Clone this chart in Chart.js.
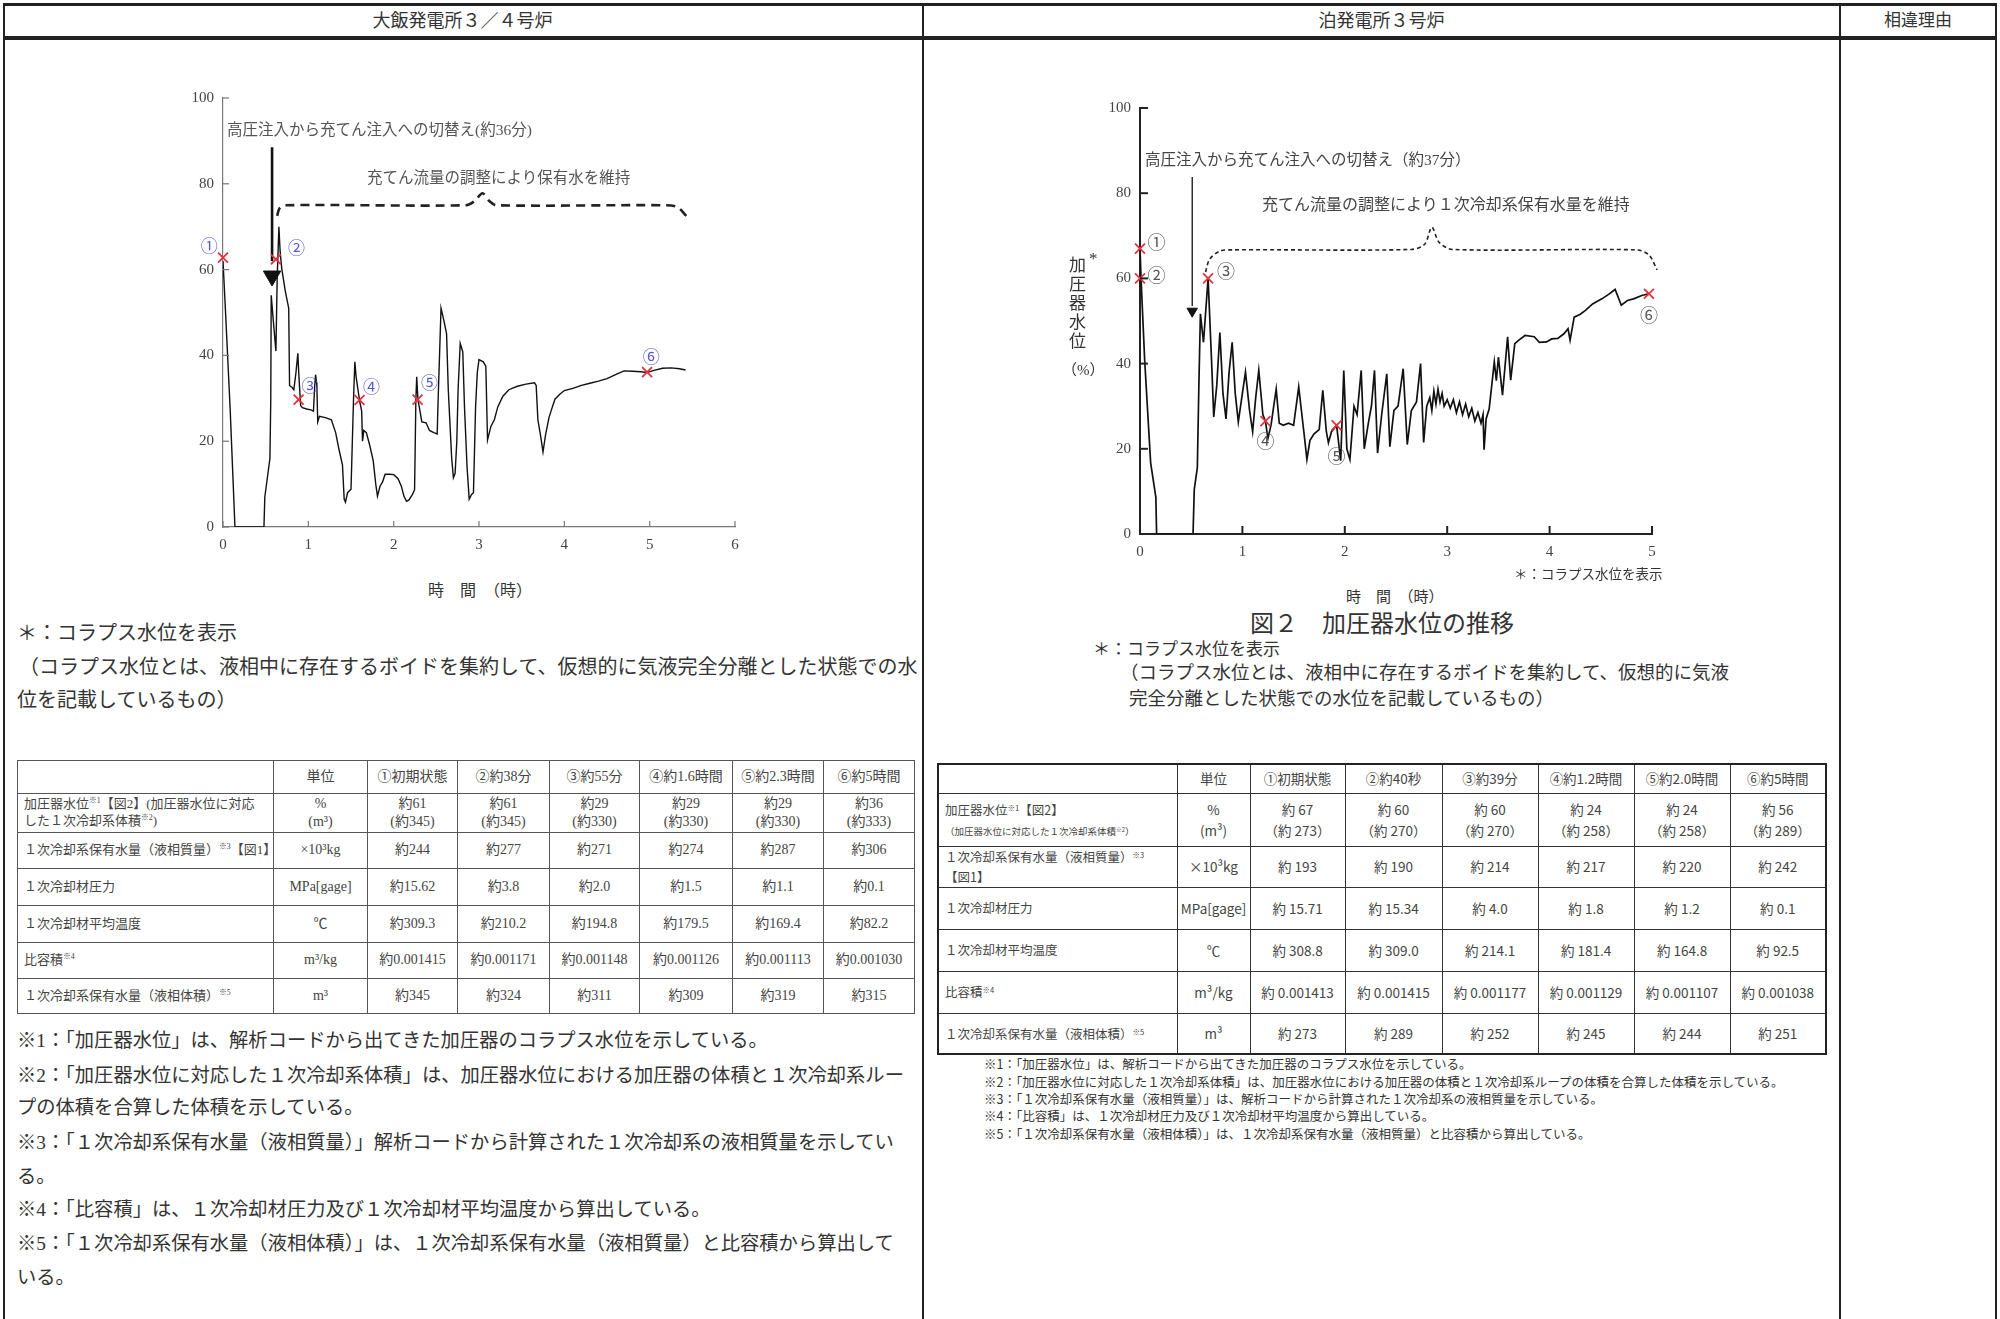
<!DOCTYPE html>
<html lang="ja">
<head>
<meta charset="utf-8">
<title>加圧器水位の推移</title>
<script src="https://cdn.jsdelivr.net/npm/chart.js@4.4.1/dist/chart.umd.min.js"></script>
<style>
  html, body { margin: 0; padding: 0; background: #fff; }
  #page { position: relative; width: 2000px; height: 1319px; overflow: hidden; color: #333;
          font-family: "Liberation Serif", "Noto Sans CJK JP", serif; }
  .rule { position: absolute; background: #222; }
  .t { position: absolute; white-space: nowrap; line-height: 1; }
  canvas { position: absolute; }
  table { position: absolute; border-collapse: collapse; table-layout: fixed; }
  td { border: 1px solid #555; text-align: center; vertical-align: middle; padding: 0; overflow: hidden; white-space: nowrap; }
  td.first { text-align: left; padding-left: 6px; }
  #tblL { font-size: 14px; line-height: 1.3; color: #444; }
  #tblL td.first { font-size: 13px; }
  #tblR { font-size: 13.5px; line-height: 1.55; color: #444; border: 2px solid #222; font-family: "Noto Sans CJK JP", sans-serif; }
  #tblR td { border-color: #333; }
  #tblR td.first { font-size: 12.5px; }
  sup { font-size: 0.6em; vertical-align: 0.6em; line-height: 0; }
  .small { font-size: 9.5px; }
</style>
</head>
<body>
<div id="page">
  <div class="rule" style="left:3px;top:3px;width:1994px;height:3px"></div>
  <div class="rule" style="left:3px;top:36px;width:1994px;height:4px"></div>
  <div class="rule" style="left:3px;top:3px;width:2px;height:1316px"></div>
  <div class="rule" style="left:922px;top:3px;width:2px;height:1316px"></div>
  <div class="rule" style="left:1839px;top:3px;width:2px;height:1316px"></div>
  <div class="rule" style="left:1995px;top:3px;width:2px;height:1316px"></div>

  <div class="t" style="left:3px;width:919px;text-align:center;top:12px;font-size:18px">大飯発電所３／４号炉</div>
  <div class="t" style="left:924px;width:915px;text-align:center;top:12px;font-size:18px">泊発電所３号炉</div>
  <div class="t" style="left:1841px;width:154px;text-align:center;top:12px;font-size:17px">相違理由</div>

  <canvas id="chartL" width="640" height="520" style="left:140px;top:60px"></canvas>
  <canvas id="chartR" width="640" height="520" style="left:1060px;top:60px"></canvas>

  <!-- left chart texts -->
  <div class="t" style="left:227px;top:122px;font-size:15.5px;color:#555">高圧注入から充てん注入への切替え(約36分)</div>
  <div class="t" style="left:367px;top:170px;font-size:15.5px;color:#555">充てん流量の調整により保有水を維持</div>
  <div class="t" style="left:428px;top:583px;font-size:16px">時　間　（時）</div>

  <div class="t" style="left:17px;top:623px;font-size:20px">＊：コラプス水位を表示</div>
  <div class="t" style="left:19px;top:657px;font-size:20px">（コラプス水位とは、液相中に存在するボイドを集約して、仮想的に気液完全分離とした状態での水</div>
  <div class="t" style="left:17px;top:690px;font-size:20px">位を記載しているもの）</div>

  <table id="tblL" style="left:17px;top:760px;width:897px"></table>

  <div class="t" style="left:17px;top:1031px;font-size:19.3px">※1：「加圧器水位」は、解析コードから出てきた加圧器のコラプス水位を示している。</div>
  <div class="t" style="left:17px;top:1066px;font-size:19.3px">※2：「加圧器水位に対応した１次冷却系体積」は、加圧器水位における加圧器の体積と１次冷却系ルー</div>
  <div class="t" style="left:17px;top:1098px;font-size:19.3px">プの体積を合算した体積を示している。</div>
  <div class="t" style="left:17px;top:1133px;font-size:19.3px">※3：「１次冷却系保有水量（液相質量）」解析コードから計算された１次冷却系の液相質量を示してい</div>
  <div class="t" style="left:17px;top:1167px;font-size:19.3px">る。</div>
  <div class="t" style="left:17px;top:1200px;font-size:19.3px">※4：「比容積」は、１次冷却材圧力及び１次冷却材平均温度から算出している。</div>
  <div class="t" style="left:17px;top:1234px;font-size:19.3px">※5：「１次冷却系保有水量（液相体積）」は、１次冷却系保有水量（液相質量）と比容積から算出して</div>
  <div class="t" style="left:17px;top:1268px;font-size:19.3px">いる。</div>

  <!-- right chart texts -->
  <div class="t" style="left:1145px;top:152px;font-size:15.5px;color:#444">高圧注入から充てん注入への切替え（約37分）</div>
  <div class="t" style="left:1262px;top:197px;font-size:16px;color:#444">充てん流量の調整により１次冷却系保有水量を維持</div>
  <div class="t" style="left:1067px;top:256px;font-size:17px;writing-mode:vertical-rl;letter-spacing:2px">加圧器水位</div>
  <div class="t" style="left:1089px;top:250px;font-size:17px">*</div>
  <div class="t" style="left:1062px;top:363px;font-size:15px">（%）</div>
  <div class="t" style="left:1514px;top:568px;font-size:13.5px">＊：コラプス水位を表示</div>
  <div class="t" style="left:1346px;top:590px;font-size:15px">時　間　（時）</div>
  <div class="t" style="left:1250px;top:612px;font-size:24px">図２　加圧器水位の推移</div>
  <div class="t" style="left:1093px;top:641px;font-size:17px">＊：コラプス水位を表示</div>
  <div class="t" style="left:1120px;top:664px;font-size:18.5px">（コラプス水位とは、液相中に存在するボイドを集約して、仮想的に気液</div>
  <div class="t" style="left:1129px;top:690px;font-size:18.5px">完全分離とした状態での水位を記載しているもの）</div>

  <table id="tblR" style="left:937px;top:763px;width:888px"></table>

  <div class="t" style="left:984px;top:1058px;font-size:12.5px;font-family:'Noto Sans CJK JP'">※1：「加圧器水位」は、解析コードから出てきた加圧器のコラプス水位を示している。</div>
  <div class="t" style="left:984px;top:1076px;font-size:12.5px;font-family:'Noto Sans CJK JP'">※2：「加圧器水位に対応した１次冷却系体積」は、加圧器水位における加圧器の体積と１次冷却系ループの体積を合算した体積を示している。</div>
  <div class="t" style="left:984px;top:1093px;font-size:12.5px;font-family:'Noto Sans CJK JP'">※3：「１次冷却系保有水量（液相質量）」は、解析コードから計算された１次冷却系の液相質量を示している。</div>
  <div class="t" style="left:984px;top:1110px;font-size:12.5px;font-family:'Noto Sans CJK JP'">※4：「比容積」は、１次冷却材圧力及び１次冷却材平均温度から算出している。</div>
  <div class="t" style="left:984px;top:1128px;font-size:12.5px;font-family:'Noto Sans CJK JP'">※5：「１次冷却系保有水量（液相体積）」は、１次冷却系保有水量（液相質量）と比容積から算出している。</div>
</div>

<script>
// 大飯 3/4号炉 加圧器水位 (時間[h], 水位[%])
const leftHours = [0, 0.03, 0.085, 0.14, 0.48, 0.49, 0.53, 0.55, 0.56, 0.565, 0.59, 0.62, 0.635, 0.655, 0.67, 0.69, 0.73, 0.77, 0.78, 0.81, 0.83, 0.855, 0.877, 0.89, 0.91, 0.93, 0.98, 1.03, 1.06, 1.075, 1.085, 1.1, 1.11, 1.13, 1.2, 1.27, 1.32, 1.36, 1.4, 1.42, 1.435, 1.46, 1.5, 1.53, 1.545, 1.56, 1.6, 1.625, 1.635, 1.65, 1.68, 1.72, 1.76, 1.79, 1.81, 1.84, 1.87, 1.9, 1.95, 2.0, 2.05, 2.09, 2.12, 2.15, 2.18, 2.22, 2.245, 2.26, 2.27, 2.285, 2.3, 2.33, 2.38, 2.42, 2.47, 2.51, 2.52, 2.555, 2.59, 2.62, 2.64, 2.68, 2.7, 2.72, 2.74, 2.755, 2.78, 2.81, 2.83, 2.86, 2.885, 2.91, 2.935, 2.96, 2.98, 3.0, 3.05, 3.08, 3.1, 3.14, 3.18, 3.22, 3.28, 3.35, 3.45, 3.55, 3.65, 3.67, 3.69, 3.72, 3.75, 3.78, 3.82, 3.86, 3.89, 3.95, 4.0, 4.1, 4.2, 4.3, 4.4, 4.5, 4.6, 4.7, 4.8, 4.9, 4.97, 5.05, 5.15, 5.25, 5.35, 5.42];
const leftLevel = [62, 50, 27, 0, 0, 7, 13, 16, 30, 54, 48, 41, 58, 70, 64, 60, 55, 51, 33, 32.5, 32, 36, 40.5, 35, 28.3, 27.8, 27.5, 27.3, 27, 33, 35.5, 33, 24.5, 25.8, 25.5, 25, 22, 18, 14.5, 6.5, 5.8, 8, 8.8, 30, 38.5, 35, 29.5, 27, 20, 22.5, 22, 19, 15.5, 10, 7.2, 9.5, 10.5, 12.3, 12.3, 12.2, 11.3, 9.5, 7.2, 6, 6.3, 7.6, 8.7, 29.5, 35, 29.5, 28, 24.5, 24.3, 22.5, 22, 21.7, 29, 51, 48, 45, 32, 16, 11.5, 12.5, 20, 32, 42.8, 40.8, 28, 14, 6.5, 7.5, 8, 28, 36, 39, 38.5, 37.5, 20.3, 23.5, 25, 28, 30.5, 32, 32.8, 33.3, 33.6, 33, 25, 21.5, 17.5, 21.5, 25.5, 28, 29.8, 31, 31.8, 32.3, 33, 33.5, 34, 34.6, 35.5, 36.4, 36.3, 36.2, 36, 36.5, 37, 37.1, 36.9, 36.6];

// 泊 3号炉 加圧器水位 (時間[h], 水位[%])
const rightHours = [0, 0.01, 0.046, 0.104, 0.155, 0.162, 0.518, 0.53, 0.56, 0.575, 0.59, 0.62, 0.665, 0.7, 0.72, 0.75, 0.78, 0.81, 0.84, 0.87, 0.9, 0.93, 0.96, 1.0, 1.03, 1.07, 1.1, 1.13, 1.16, 1.2, 1.225, 1.24, 1.25, 1.28, 1.3, 1.33, 1.36, 1.4, 1.45, 1.5, 1.55, 1.6, 1.63, 1.66, 1.7, 1.75, 1.785, 1.82, 1.84, 1.87, 1.92, 1.96, 1.99, 2.02, 2.05, 2.09, 2.12, 2.16, 2.19, 2.23, 2.26, 2.29, 2.32, 2.36, 2.41, 2.44, 2.48, 2.52, 2.57, 2.61, 2.65, 2.7, 2.74, 2.77, 2.8, 2.83, 2.85, 2.87, 2.89, 2.91, 2.93, 2.95, 2.97, 3.0, 3.03, 3.06, 3.09, 3.12, 3.15, 3.18, 3.21, 3.24, 3.27, 3.3, 3.33, 3.35, 3.36, 3.38, 3.41, 3.46, 3.48, 3.5, 3.54, 3.59, 3.62, 3.66, 3.7, 3.76, 3.85, 3.9, 3.97, 4.02, 4.08, 4.14, 4.18, 4.2, 4.24, 4.3, 4.35, 4.42, 4.51, 4.58, 4.64, 4.7, 4.76, 4.82, 4.9, 4.97];
const rightLevel = [67, 60, 40.6, 16.7, 8.6, 0, 0, 10.5, 15.6, 35, 51.7, 45, 60, 40, 27.5, 35, 47.3, 33, 27, 38, 45, 33, 26.3, 33, 38, 29, 24, 32, 38.4, 28, 26.5, 24, 22.5, 25.6, 29, 34, 26, 25.5, 26, 25.5, 34.5, 24, 17.5, 22, 23.5, 24.5, 33.7, 24, 21.4, 24, 25.5, 17.2, 38.4, 20, 17.5, 30, 28, 38.4, 20, 26, 30, 38.4, 19, 28, 37.6, 20.5, 29, 30, 38.8, 21, 29, 31, 40, 21.5, 30, 32, 29, 33.5, 30.5, 34, 31, 33, 30, 31.5, 29.5, 31.5, 28.5, 31, 28, 30.5, 27.5, 29.5, 26.5, 28.5, 26, 28, 19.8, 27, 29.4, 40.4, 36, 41.5, 32.6, 46.3, 36.1, 44.7, 45.5, 46.6, 46.3, 45, 45.1, 45.8, 45.9, 47, 48.2, 45.5, 50.9, 51.6, 52.5, 54, 55.2, 56.3, 57.4, 53.7, 54.8, 55.2, 56, 56.4];

// 着目点 ①〜⑥
const markNames = ["①", "②", "③", "④", "⑤", "⑥"];
const leftMarkHours = [0, 0.62, 0.886, 1.6, 2.28, 4.97];
const leftMarkLevel = [62.8, 62.4, 29.7, 29.6, 29.7, 36.1];
const leftLabelHours = [-0.16, 0.86, 1.02, 1.74, 2.42, 5.02];
const leftLabelLevel = [65.7, 65.1, 33, 32.8, 33.6, 39.8];
const rightMarkHours = [0, 0, 0.665, 1.225, 1.92, 4.97];
const rightMarkLevel = [67, 60, 60, 26.5, 25.5, 56.4];
const rightLabelHours = [0.16, 0.16, 0.84, 1.225, 1.92, 4.97];
const rightLabelLevel = [68.5, 60.7, 61.7, 21.8, 18.3, 51.3];

// 注記の矢印と波括弧
const leftArrowHours = [0.575, 0.575];
const leftArrowLevel = [88.5, 62];
const leftHeadLevel = [58.5];
const leftBraceHours = [0.635, 0.66, 0.72, 2.85, 2.95, 3.04, 3.12, 3.2, 5.2, 5.33, 5.43];
const leftBraceLevel = [72.5, 74.2, 75, 75, 76, 77.8, 76, 75, 75, 74.5, 72.5];
const rightArrowHours = [0.51, 0.51];
const rightArrowLevel = [83.8, 53.5];
const rightHeadLevel = [52.3];
const rightBraceHours = [0.64, 0.68, 0.78, 0.9, 2.65, 2.78, 2.85, 2.92, 3.05, 4.85, 4.97, 5.05];
const rightBraceLevel = [61.5, 64.5, 66.4, 66.7, 66.8, 68, 72, 68.5, 66.8, 66.7, 65.5, 62];

const levelTicks = [0, 20, 40, 60, 80, 100];
const leftHourTicks = [0, 1, 2, 3, 4, 5, 6];
const rightHourTicks = [0, 1, 2, 3, 4, 5];

// 表
const leftCols = [256, 94, 90, 92, 90, 93, 91, 91];
const leftRowHeights = [33, 39, 36, 37, 37, 36, 35];
const leftHead = ["", "単位", "①初期状態", "②約38分", "③約55分", "④約1.6時間", "⑤約2.3時間", "⑥約5時間"];
const leftRows = [
  ["加圧器水位<sup>※1</sup>【図2】(加圧器水位に対応<br>した１次冷却系体積<sup>※2</sup>)", "%<br>(m³)", "約61<br>(約345)", "約61<br>(約345)", "約29<br>(約330)", "約29<br>(約330)", "約29<br>(約330)", "約36<br>(約333)"],
  ["１次冷却系保有水量（液相質量）<sup>※3</sup>【図1】", "×10³kg", "約244", "約277", "約271", "約274", "約287", "約306"],
  ["１次冷却材圧力", "MPa[gage]", "約15.62", "約3.8", "約2.0", "約1.5", "約1.1", "約0.1"],
  ["１次冷却材平均温度", "℃", "約309.3", "約210.2", "約194.8", "約179.5", "約169.4", "約82.2"],
  ["比容積<sup>※4</sup>", "m³/kg", "約0.001415", "約0.001171", "約0.001148", "約0.001126", "約0.001113", "約0.001030"],
  ["１次冷却系保有水量（液相体積）<sup>※5</sup>", "m³", "約345", "約324", "約311", "約309", "約319", "約315"],
];
const rightCols = [239, 73, 95, 97, 96, 96, 96, 96];
const rightRowHeights = [29, 53, 41, 42, 42, 42, 41];
const rightHead = ["", "単位", "①初期状態", "②約40秒", "③約39分", "④約1.2時間", "⑤約2.0時間", "⑥約5時間"];
const rightRows = [
  ["加圧器水位<sup>※1</sup>【図2】<br><span class=\"small\">（加圧器水位に対応した１次冷却系体積<sup>※2</sup>）</span>", "%<br>(m³)", "約 67<br>（約 273）", "約 60<br>（約 270）", "約 60<br>（約 270）", "約 24<br>（約 258）", "約 24<br>（約 258）", "約 56<br>（約 289）"],
  ["１次冷却系保有水量（液相質量）<sup>※3</sup><br>【図1】", "×10³kg", "約 193", "約 190", "約 214", "約 217", "約 220", "約 242"],
  ["１次冷却材圧力", "MPa[gage]", "約 15.71", "約 15.34", "約 4.0", "約 1.8", "約 1.2", "約 0.1"],
  ["１次冷却材平均温度", "℃", "約 308.8", "約 309.0", "約 214.1", "約 181.4", "約 164.8", "約 92.5"],
  ["比容積<sup>※4</sup>", "m³/kg", "約 0.001413", "約 0.001415", "約 0.001177", "約 0.001129", "約 0.001107", "約 0.001038"],
  ["１次冷却系保有水量（液相体積）<sup>※5</sup>", "m³", "約 273", "約 289", "約 252", "約 245", "約 244", "約 251"],
];

const buildTable = (id, cols, heights, head, rows) => {
  const table = document.getElementById(id);
  const colgroup = `<colgroup>${cols.map((w) => `<col style="width:${w}px">`).join("")}</colgroup>`;
  const lines = [head, ...rows].map((cells, r) => {
    const tds = cells.map((c, i) => `<td class="${i === 0 && r > 0 ? "first" : ""}">${c}</td>`).join("");
    return `<tr style="height:${heights[r]}px">${tds}</tr>`;
  });
  table.innerHTML = colgroup + lines.join("");
};

buildTable("tblL", leftCols, leftRowHeights, leftHead, leftRows);
buildTable("tblR", rightCols, rightRowHeights, rightHead, rightRows);

const toPoints = (xs, ys) => xs.map((x, i) => ({ x, y: ys[i] }));

// 内向きの目盛と丸数字ラベル
const overlay = {
  id: "overlay",
  afterDatasetsDraw(chart, args, opts) {
    const { ctx, chartArea } = chart;
    const { x, y } = chart.scales;
    ctx.save();
    ctx.strokeStyle = opts.tickColor;
    ctx.lineWidth = opts.tickWidth;
    opts.xTicks.forEach((v) => {
      const px = x.getPixelForValue(v);
      ctx.beginPath();
      ctx.moveTo(px, chartArea.bottom);
      ctx.lineTo(px, chartArea.bottom - opts.tickLen);
      ctx.stroke();
    });
    opts.yTicks.forEach((v) => {
      const py = y.getPixelForValue(v);
      ctx.beginPath();
      ctx.moveTo(chartArea.left, py);
      ctx.lineTo(chartArea.left + opts.tickLen, py);
      ctx.stroke();
    });
    ctx.font = opts.labelFont;
    ctx.fillStyle = opts.labelColor;
    ctx.textAlign = "center";
    ctx.textBaseline = "middle";
    opts.names.forEach((name, i) => {
      ctx.fillText(name, x.getPixelForValue(opts.labelX[i]), y.getPixelForValue(opts.labelY[i]));
    });
    ctx.restore();
  },
};

const makeChart = (id, cfg) => {
  const tickFont = { family: "Liberation Serif", size: cfg.tickSize };
  return new Chart(document.getElementById(id), {
    type: "line",
    data: {
      datasets: [
        {
          data: toPoints(cfg.markX, cfg.markY),
          showLine: false,
          pointStyle: "crossRot",
          pointRadius: 7,
          pointBorderWidth: 1.8,
          borderColor: "#e2323c",
          clip: false,
        },
        {
          data: toPoints([cfg.arrowX[0]], cfg.headY),
          showLine: false,
          pointStyle: "triangle",
          rotation: 180,
          pointRadius: cfg.headSize,
          backgroundColor: "#111",
          borderColor: "#111",
        },
        {
          data: toPoints(cfg.arrowX, cfg.arrowY),
          borderColor: "#111",
          borderWidth: cfg.arrowWidth,
          pointRadius: 0,
        },
        {
          data: toPoints(cfg.braceX, cfg.braceY),
          borderColor: "#222",
          borderWidth: cfg.braceWidth,
          borderDash: cfg.braceDash,
          pointRadius: 0,
          tension: 0.3,
          clip: false,
        },
        {
          data: toPoints(cfg.hours, cfg.level),
          borderColor: "#111",
          borderWidth: cfg.lineWidth,
          pointRadius: 0,
          tension: 0,
        },
      ],
    },
    options: {
      responsive: false,
      animation: false,
      layout: { padding: cfg.padding },
      plugins: {
        legend: { display: false },
        tooltip: { enabled: false },
        overlay: {
          xTicks: cfg.xTicks,
          yTicks: levelTicks,
          tickLen: cfg.tickLen,
          tickColor: cfg.axisColor,
          tickWidth: cfg.axisWidth,
          names: markNames,
          labelX: cfg.labelX,
          labelY: cfg.labelY,
          labelFont: `${cfg.labelSize}px "Noto Sans CJK JP"`,
          labelColor: cfg.labelColor,
        },
      },
      scales: {
        x: {
          type: "linear",
          min: 0,
          max: cfg.xMax,
          afterBuildTicks: (scale) => { scale.ticks = cfg.xTicks.map((value) => ({ value })); },
          ticks: { color: "#444", font: tickFont, padding: 9, maxRotation: 0 },
          grid: { display: false, drawTicks: false },
          border: { display: true, color: cfg.axisColor, width: cfg.axisWidth },
          afterFit: (scale) => { scale.height = 40; },
        },
        y: {
          min: 0,
          max: 100,
          afterBuildTicks: (scale) => { scale.ticks = levelTicks.map((value) => ({ value })); },
          ticks: { color: "#444", font: tickFont, padding: 9 },
          grid: { display: false, drawTicks: false },
          border: { display: true, color: cfg.axisColor, width: cfg.axisWidth },
          afterFit: (scale) => { scale.width = cfg.yWidth; },
        },
      },
    },
    plugins: [overlay],
  });
};

makeChart("chartL", {
  hours: leftHours, level: leftLevel,
  markX: leftMarkHours, markY: leftMarkLevel,
  labelX: leftLabelHours, labelY: leftLabelLevel,
  arrowX: leftArrowHours, arrowY: leftArrowLevel, headY: leftHeadLevel, headSize: 10, arrowWidth: 2.6,
  braceX: leftBraceHours, braceY: leftBraceLevel, braceDash: [9, 6], braceWidth: 2.6,
  xMax: 6, xTicks: leftHourTicks, yWidth: 83,
  padding: { top: 38, right: 45, bottom: 13, left: 0 },
  lineWidth: 1.4, axisColor: "#777", axisWidth: 1.2, tickLen: 6, tickSize: 15,
  labelSize: 17, labelColor: "#5656d6",
});

makeChart("chartR", {
  hours: rightHours, level: rightLevel,
  markX: rightMarkHours, markY: rightMarkLevel,
  labelX: rightLabelHours, labelY: rightLabelLevel,
  arrowX: rightArrowHours, arrowY: rightArrowLevel, headY: rightHeadLevel, headSize: 6, arrowWidth: 1.3,
  braceX: rightBraceHours, braceY: rightBraceLevel, braceDash: [4, 3], braceWidth: 1.6,
  xMax: 5, xTicks: rightHourTicks, yWidth: 80,
  padding: { top: 48, right: 48, bottom: 6, left: 0 },
  lineWidth: 1.7, axisColor: "#222", axisWidth: 2, tickLen: 8, tickSize: 15,
  labelSize: 18, labelColor: "#555",
});
</script>
</body>
</html>
